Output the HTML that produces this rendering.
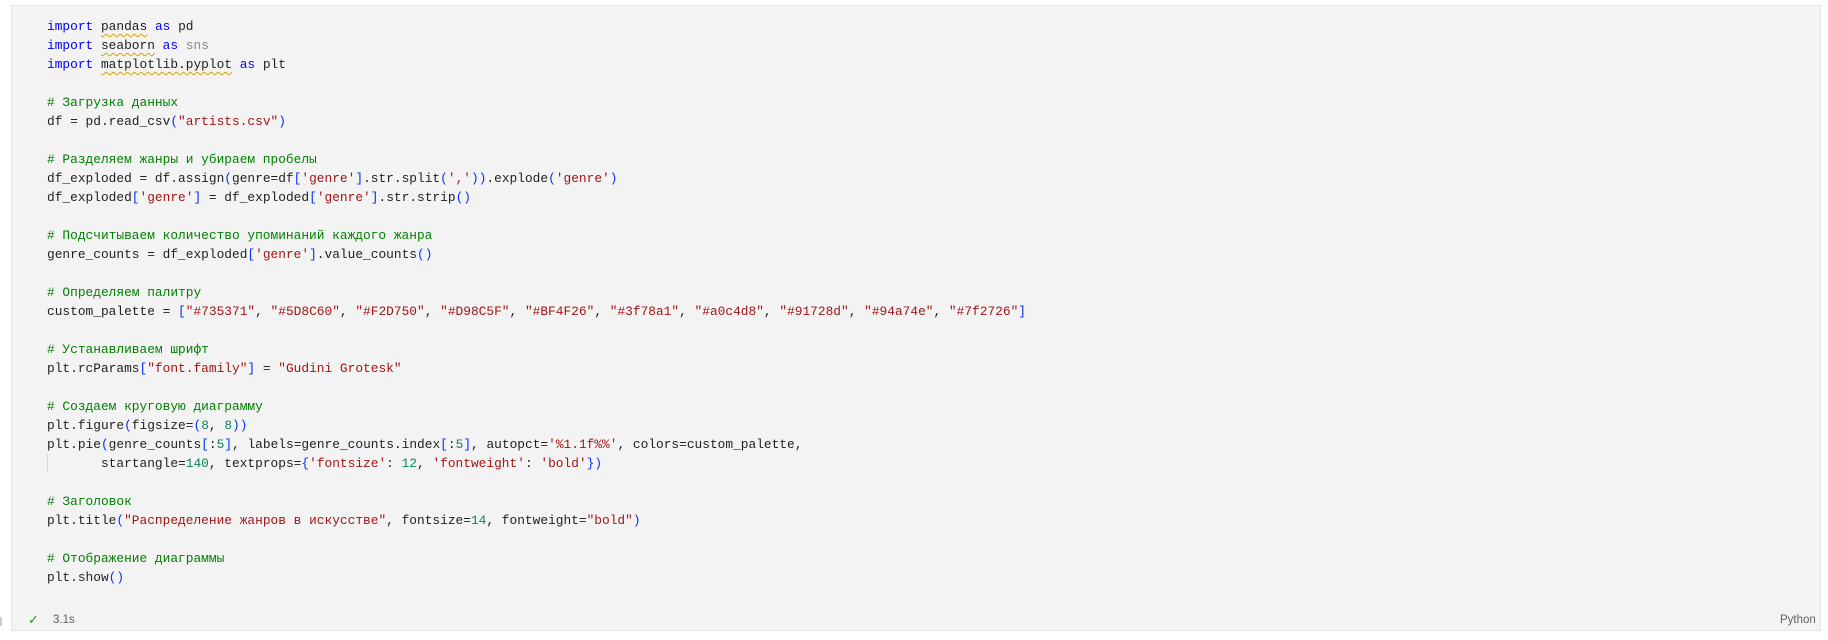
<!DOCTYPE html>
<html><head><meta charset="utf-8"><style>
html,body{margin:0;padding:0;background:#fff;width:1828px;height:640px;overflow:hidden}
.box{position:absolute;left:11px;top:5px;width:1810px;height:626px;background:#f3f3f3;border:1px solid #e6e6e6;box-sizing:border-box}
pre{position:absolute;left:47px;top:17px;margin:0;font-family:"Liberation Mono","DejaVu Sans Mono",monospace;font-size:12.85px;line-height:19px;color:#1f1f1f}
.k{color:#0000ff}.c{color:#008000}.s{color:#a31515}.n{color:#098658}.b{color:#0431fa}.g{color:#8a8a8a}
.w{text-decoration:underline wavy #d7a400;text-decoration-thickness:1px;text-underline-offset:3px}
.foot{position:absolute;top:614px;font-family:"Liberation Sans",sans-serif;font-size:11.5px;color:#616161}
.guide{position:absolute;left:47px;top:454px;width:1px;height:19px;background:#d6d6d6}
</style></head><body>
<div class="box"></div>
<div class="guide"></div>
<pre><span class="k">import</span> <span class="w">pandas</span> <span class="k">as</span> pd
<span class="k">import</span> <span class="w">seaborn</span> <span class="k">as</span> <span class="g">sns</span>
<span class="k">import</span> <span class="w">matplotlib.pyplot</span> <span class="k">as</span> plt

<span class="c"># Загрузка данных</span>
df = pd.read_csv<span class="b">(</span><span class="s">"artists.csv"</span><span class="b">)</span>

<span class="c"># Разделяем жанры и убираем пробелы</span>
df_exploded = df.assign<span class="b">(</span>genre=df<span class="b">[</span><span class="s">'genre'</span><span class="b">]</span>.str.split<span class="b">(</span><span class="s">','</span><span class="b">))</span>.explode<span class="b">(</span><span class="s">'genre'</span><span class="b">)</span>
df_exploded<span class="b">[</span><span class="s">'genre'</span><span class="b">]</span> = df_exploded<span class="b">[</span><span class="s">'genre'</span><span class="b">]</span>.str.strip<span class="b">()</span>

<span class="c"># Подсчитываем количество упоминаний каждого жанра</span>
genre_counts = df_exploded<span class="b">[</span><span class="s">'genre'</span><span class="b">]</span>.value_counts<span class="b">()</span>

<span class="c"># Определяем палитру</span>
custom_palette = <span class="b">[</span><span class="s">"#735371"</span>, <span class="s">"#5D8C60"</span>, <span class="s">"#F2D750"</span>, <span class="s">"#D98C5F"</span>, <span class="s">"#BF4F26"</span>, <span class="s">"#3f78a1"</span>, <span class="s">"#a0c4d8"</span>, <span class="s">"#91728d"</span>, <span class="s">"#94a74e"</span>, <span class="s">"#7f2726"</span><span class="b">]</span>

<span class="c"># Устанавливаем шрифт</span>
plt.rcParams<span class="b">[</span><span class="s">"font.family"</span><span class="b">]</span> = <span class="s">"Gudini Grotesk"</span>

<span class="c"># Создаем круговую диаграмму</span>
plt.figure<span class="b">(</span>figsize=<span class="b">(</span><span class="n">8</span>, <span class="n">8</span><span class="b">))</span>
plt.pie<span class="b">(</span>genre_counts<span class="b">[</span>:<span class="n">5</span><span class="b">]</span>, labels=genre_counts.index<span class="b">[</span>:<span class="n">5</span><span class="b">]</span>, autopct=<span class="s">'%1.1f%%'</span>, colors=custom_palette,
       startangle=<span class="n">140</span>, textprops=<span class="b">{</span><span class="s">'fontsize'</span>: <span class="n">12</span>, <span class="s">'fontweight'</span>: <span class="s">'bold'</span><span class="b">})</span>

<span class="c"># Заголовок</span>
plt.title<span class="b">(</span><span class="s">"Распределение жанров в искусстве"</span>, fontsize=<span class="n">14</span>, fontweight=<span class="s">"bold"</span><span class="b">)</span>

<span class="c"># Отображение диаграммы</span>
plt.show<span class="b">()</span></pre>
<div class="foot" style="left:28px;color:#388a34;font-size:13px;top:612px">✓</div>
<div class="foot" style="left:53px">3.1s</div>
<div class="foot" style="left:1780px">Python</div>
<div style="position:absolute;left:0;top:617px;width:2px;height:9px;background:#ccc"></div>
</body></html>
